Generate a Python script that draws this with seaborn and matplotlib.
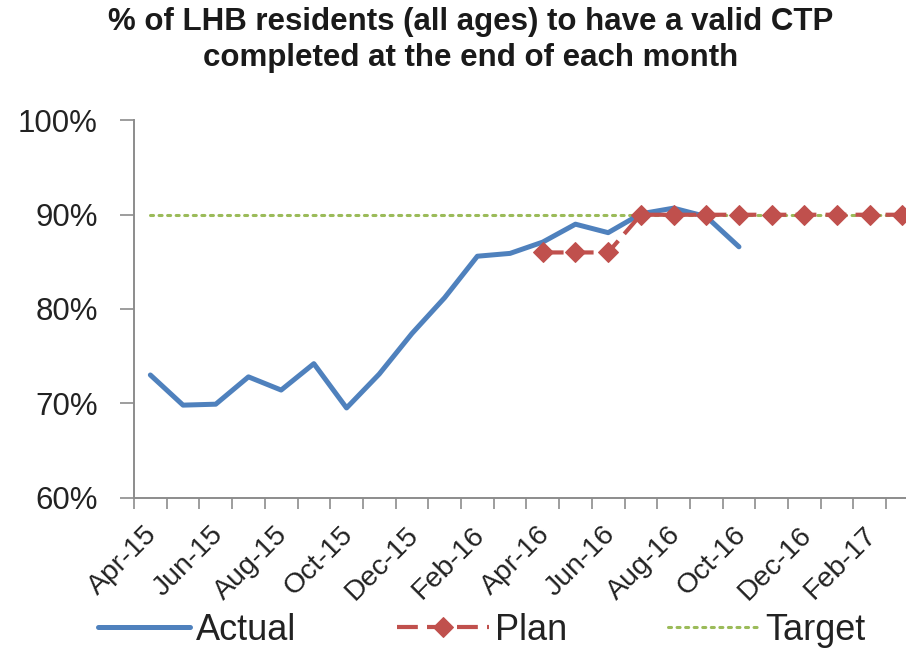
import numpy as np
import pandas as pd
import matplotlib
matplotlib.use("Agg")
import matplotlib.pyplot as plt
import seaborn as sns
from matplotlib.ticker import FixedLocator, NullFormatter
import matplotlib.transforms as mtransforms

# Month categories (April 2015 to March 2017)
months = ["Apr-15", "May-15", "Jun-15", "Jul-15", "Aug-15", "Sep-15",
          "Oct-15", "Nov-15", "Dec-15", "Jan-16", "Feb-16", "Mar-16",
          "Apr-16", "May-16", "Jun-16", "Jul-16", "Aug-16", "Sep-16",
          "Oct-16", "Nov-16", "Dec-16", "Jan-17", "Feb-17", "Mar-17"]

# % of residents with a valid CTP at month end
actual = [73.0, 69.8, 69.9, 72.8, 71.4, 74.2, 69.5, 73.1, 77.4, 81.2,
          85.6, 85.9, 87.1, 89.0, 88.1, 90.1, 90.7, 89.8, 86.6]
plan_months = ["Apr-16", "May-16", "Jun-16", "Jul-16", "Aug-16", "Sep-16",
               "Oct-16", "Nov-16", "Dec-16", "Jan-17", "Feb-17", "Mar-17"]
plan = [86, 86, 86, 90, 90, 90, 90, 90, 90, 90, 90, 90]
target = [90, 90, 90, 90, 90, 90, 90, 90, 90, 90, 90, 90,
          90, 90, 90, 90, 90, 90, 90, 90, 90, 90, 90, 90]

y_ticks = [60, 70, 80, 90, 100]
label_months = months[::2]

sns.set_theme(style="white")
plt.rcParams["font.family"] = ["Liberation Sans", "DejaVu Sans"]

pos = {m: i for i, m in enumerate(months)}
df_actual = pd.DataFrame({"x": [pos[m] for m in months[:len(actual)]], "y": actual})
df_plan = pd.DataFrame({"x": [pos[m] for m in plan_months], "y": plan})
df_target = pd.DataFrame({"x": [pos[m] for m in months], "y": target})

W, H = 906, 651
fig = plt.figure(figsize=(W / 100, H / 100), dpi=100)
ax_left, ax_bottom, ax_top = 134, 497.5, 120.5
cat_w = 32.7
ax = fig.add_axes([ax_left / W, (H - ax_bottom) / H,
                   len(months) * cat_w / W, (ax_bottom - ax_top) / H])

text_color = "#222222"
axis_color = "#8c8c8c"

sns.lineplot(data=df_target, x="x", y="y", ax=ax, color="#9BBB59",
             lw=2.2, linestyle=(0, (1, 1.8)), label="Target", sort=False,
             dash_capstyle="round")
sns.lineplot(data=df_actual, x="x", y="y", ax=ax, color="#4F81BD",
             lw=3.6, label="Actual", sort=False,
             solid_joinstyle="round", solid_capstyle="round")
sns.lineplot(data=df_plan, x="x", y="y", ax=ax, color="#C0504D",
             lw=3.0, linestyle=(0, (5, 2.2)), marker="D", markersize=10,
             markeredgecolor="#C0504D", markerfacecolor="#C0504D",
             label="Plan", sort=False)

ax.set_xlim(-0.5, len(months) - 0.5)
ax.set_ylim(60, 100)
ax.set_xlabel("")
ax.set_ylabel("")

# Category boundaries carry the tick marks; labels sit on every other month
ax.xaxis.set_major_locator(FixedLocator(np.arange(-0.5, len(months), 1.0)))
ax.xaxis.set_major_formatter(NullFormatter())
ax.set_xticks(range(0, len(months), 2), labels=label_months, minor=True)
ax.tick_params(axis="x", which="major", length=8, width=1.2,
               color=axis_color, direction="out", bottom=True)
ax.tick_params(axis="x", which="minor", length=0, pad=24,
               labelsize=20.5, labelcolor=text_color)
offset = mtransforms.ScaledTranslation(3 / 100, 0, fig.dpi_scale_trans)
for lab in ax.get_xticklabels(minor=True):
    lab.set_rotation(45)
    lab.set_ha("right")
    lab.set_va("center")
    lab.set_rotation_mode("anchor")
    lab.set_transform(lab.get_transform() + offset)

ax.set_yticks(y_ticks, labels=[f"{v}%" for v in y_ticks])
ax.tick_params(axis="y", length=10, width=1.2, color=axis_color,
               direction="out", left=True, pad=16, labelsize=22.5,
               labelcolor=text_color)

for side in ["top", "right"]:
    ax.spines[side].set_visible(False)
for side in ["left", "bottom"]:
    ax.spines[side].set_color(axis_color)
    ax.spines[side].set_linewidth(1.4)
ax.grid(False)

fig.text(0.519, 1 - 40 / H,
         "% of LHB residents (all ages) to have a valid CTP\n"
         "completed at the end of each month",
         ha="center", va="center", fontsize=22.5, fontweight="bold",
         color="#1a1a1a", linespacing=1.22)

handles, labels = ax.get_legend_handles_labels()
ax.get_legend().remove()
order = [labels.index(n) for n in ["Actual", "Plan", "Target"]]
fig.legend([handles[i] for i in order], [labels[i] for i in order],
           loc="center", bbox_to_anchor=(0.532, 1 - 630 / H), ncol=3,
           frameon=False, fontsize=26, handlelength=2.55,
           handletextpad=0.15, columnspacing=2.8, labelcolor=text_color)

fig.savefig("out.png", dpi=100, facecolor="white")
